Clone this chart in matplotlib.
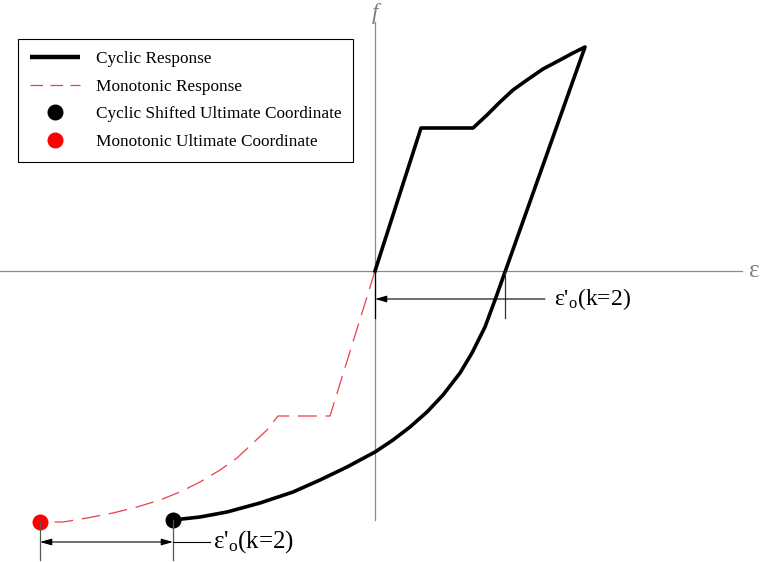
import matplotlib.pyplot as plt
from matplotlib.lines import Line2D

plt.rcParams['font.family'] = ['Liberation Serif', 'DejaVu Serif']
plt.rcParams['mathtext.fontset'] = 'custom'
plt.rcParams['mathtext.rm'] = 'Liberation Serif'
plt.rcParams['mathtext.it'] = 'Liberation Serif:italic'

# cyclic loop: loading branch, plateau, hardening, unloading and reversal
cyc_eps = [0.0, 0.46, 0.98, 1.12, 1.25, 1.38, 1.52, 1.68, 1.85, 1.98, 2.10,
           1.30, 1.20, 1.10, 0.97, 0.85, 0.68, 0.52, 0.35, 0.18, 0.0,
           -0.28, -0.55, -0.82, -1.15, -1.48, -1.75, -2.02]
cyc_f = [0.0, 1.43, 1.43, 1.56, 1.69, 1.81, 1.91, 2.02, 2.11, 2.18, 2.24,
         -0.01, -0.29, -0.56, -0.82, -1.02, -1.24, -1.41, -1.56, -1.69, -1.81,
         -1.96, -2.09, -2.21, -2.32, -2.41, -2.46, -2.49]

# monotonic envelope in compression
mono_eps = [0.0, -0.45, -0.97, -1.08, -1.22, -1.38, -1.55, -1.75, -1.95, -2.15,
            -2.38, -2.62, -2.88, -3.12, -3.35]
mono_f = [0.0, -1.45, -1.45, -1.59, -1.72, -1.87, -1.99, -2.11, -2.21, -2.29,
          -2.36, -2.42, -2.47, -2.51, -2.51]

cyc_ult = (-2.02, -2.49)
mono_ult = (-3.35, -2.51)
eps_shift_top = 1.30  # zero-stress strain after unloading

label = r"ε'$_\mathrm{o}$(k=2)"

fig = plt.figure(figsize=(7.6, 5.62), dpi=100)
ax = fig.add_axes([0, 0, 1, 1])
ax.set_xlim(-3.75, 3.85)
ax.set_ylim(-2.91, 2.71)
ax.axis('off')

# coordinate axes
ax.plot([-3.75, 3.67], [0, 0], color='#8a8a8a', lw=0.9)
ax.plot([0, 0], [-2.49, 2.49], color='#8a8a8a', lw=0.9)
ax.text(0, 2.57, 'f', style='italic', color='#808080', fontsize=17,
        ha='center', va='center')
ax.text(3.79, 0.0, 'ε', color='#808080', fontsize=18, ha='center', va='center')

ax.plot(mono_eps, mono_f, color='#e8404c', lw=0.9, dashes=(15, 7))
ax.plot(cyc_eps, cyc_f, color='black', lw=2.6, solid_joinstyle='round')
ax.plot(*cyc_ult, 'o', color='black', ms=10.5)
ax.plot(*mono_ult, 'o', color='red', ms=10.5)

# dimension at the zero-stress crossing
arrow = dict(arrowstyle='-|>,head_length=0.7,head_width=0.2', color='black',
             lw=0.8, shrinkA=0, shrinkB=0)
ax.plot([0, 0], [0, -0.47], color='black', lw=0.9)
ax.plot([eps_shift_top, eps_shift_top], [0, -0.47], color='#333333', lw=0.9)
ax.annotate('', xy=(0, -0.28), xytext=(1.70, -0.28), arrowprops=arrow)
ax.text(1.79, -0.28, label, fontsize=17, va='center', ha='left')

# dimension between the two ultimate points
yb = -2.71
ax.plot([mono_ult[0]] * 2, [mono_ult[1], -2.89], color='#555555', lw=0.9)
ax.plot([cyc_ult[0]] * 2, [cyc_ult[1], -2.89], color='#555555', lw=0.9)
arrow2 = dict(arrowstyle='<|-|>,head_length=0.7,head_width=0.2', color='black',
              lw=0.8, shrinkA=0, shrinkB=0)
ax.annotate('', xy=(mono_ult[0], yb), xytext=(cyc_ult[0], yb), arrowprops=arrow2)
ax.plot([cyc_ult[0], -1.65], [yb, yb], color='black', lw=0.8)
ax.text(-1.62, yb, label, fontsize=18, va='center', ha='left')

handles = [
    Line2D([], [], color='black', lw=3.2, solid_capstyle='butt'),
    Line2D([], [], color='#e8404c', lw=0.9, dashes=(10, 6)),
    Line2D([], [], ls='none', marker='o', color='black', ms=10.5),
    Line2D([], [], ls='none', marker='o', color='red', ms=10.5),
]
labels = ['Cyclic Response', 'Monotonic Response',
          'Cyclic Shifted Ultimate Coordinate', 'Monotonic Ultimate Coordinate']
leg = ax.legend(handles, labels, loc='upper left',
                bbox_to_anchor=(18 / 760, 1 - 39 / 562), bbox_transform=fig.transFigure,
                borderaxespad=0, fontsize=12.4, frameon=True, fancybox=False,
                edgecolor='black', framealpha=1, handlelength=2.9,
                handletextpad=0.95, labelspacing=0.68, borderpad=0.68)
leg.get_frame().set_linewidth(0.8)

fig.savefig('out.png', dpi=100)
